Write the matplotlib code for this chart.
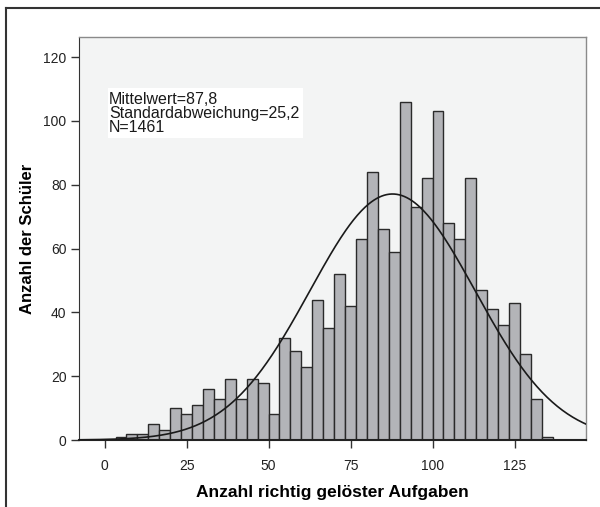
import numpy as np
import matplotlib
matplotlib.use("Agg")
import matplotlib.pyplot as plt
from matplotlib.lines import Line2D
from matplotlib.patches import Rectangle

plt.rcParams['font.family'] = ['Liberation Sans', 'DejaVu Sans']

# histogram: bins of width 10/3, starting at 10/3
bin_width = 10 / 3
counts = [1, 2, 2, 5, 3, 10, 8, 11, 16, 13, 19, 13, 19, 18, 8, 32, 28, 23, 44, 35,
          52, 42, 63, 84, 66, 59, 106, 73, 82, 103, 68, 63, 82, 47, 41, 36, 43, 27, 13, 1]
first_bin = 1
mean = 87.8
sd = 25.2
n = 1461
x_ticks = [0, 25, 50, 75, 100, 125]
y_ticks = [0, 20, 40, 60, 80, 100, 120]
info_lines = ['Mittelwert=87,8', 'Standardabweichung=25,2', 'N=1461']

fig = plt.figure(figsize=(6, 5.07), dpi=100)
ax = fig.add_axes([79 / 600, 1 - 440 / 507, (586 - 79) / 600, (440 - 37) / 507])
ax.set_facecolor('#f3f4f4')

lefts = [(first_bin + i) * bin_width for i in range(len(counts))]
ax.bar(lefts, counts, width=bin_width, align='edge', color='#b3b4b8',
       edgecolor='#2a2a2a', linewidth=1.0, zorder=2)

xs = np.linspace(-8, 147, 400)
ys = n * bin_width / (sd * np.sqrt(2 * np.pi)) * np.exp(-0.5 * ((xs - mean) / sd) ** 2)
ax.plot(xs, ys, color='#1a1a1a', linewidth=1.2, zorder=3)

ax.set_xlim(-7.8, 146.8)
ax.set_ylim(0, 126.3)
ax.set_xticks(x_ticks)
ax.set_yticks(y_ticks)
ax.tick_params(axis='both', direction='out', length=6, width=1, color='#333333',
               labelsize=10, labelcolor='#222222', pad=3)
ax.tick_params(axis='x', pad=8)

for s in ['top', 'right']:
    ax.spines[s].set_color('#8a8a8a')
    ax.spines[s].set_linewidth(1.0)
ax.spines['left'].set_color('#333333')
ax.spines['bottom'].set_color('#222222')
ax.spines['bottom'].set_linewidth(1.5)

ax.set_xlabel('Anzahl richtig gelöster Aufgaben', fontsize=12.5, fontweight='bold',
              labelpad=8)
ax.set_ylabel('Anzahl der Schüler', fontsize=12, fontweight='bold', labelpad=6)

# statistics box
ax.add_patch(Rectangle((0.0572, 0.749), 0.3846, 0.124, transform=ax.transAxes,
                       facecolor='white', edgecolor='none', zorder=4))
for i, line in enumerate(info_lines):
    ax.text(0.0592, 0.846 - i * 0.0347, line, transform=ax.transAxes,
            fontsize=11.5, va='center', ha='left', color='#1a1a1a', zorder=5)

# outer frame
fig.add_artist(Line2D([6 / 600, 1], [1 - 8 / 507, 1 - 8 / 507], color='#333333',
                      linewidth=1.5, transform=fig.transFigure))
fig.add_artist(Line2D([6 / 600, 6 / 600], [0, 1 - 8 / 507], color='#333333',
                      linewidth=1.5, transform=fig.transFigure))

fig.savefig('out.png', dpi=100)
